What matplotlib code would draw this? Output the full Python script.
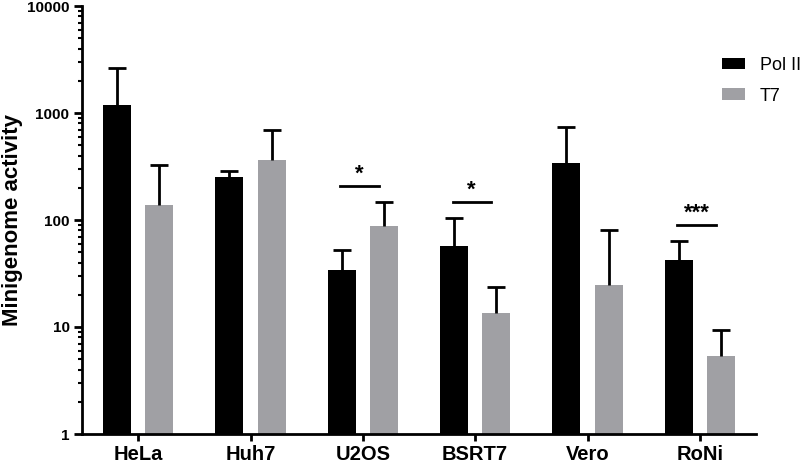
import matplotlib
matplotlib.use("Agg")
import matplotlib.pyplot as plt
from matplotlib.ticker import LogLocator, FixedLocator, NullFormatter
import numpy as np

plt.rcParams['font.family'] = ['Liberation Sans', 'DejaVu Sans']

categories = ["HeLa", "Huh7", "U2OS", "BSRT7", "Vero", "RoNi"]
polii = [1200, 250, 34, 57, 340, 42]
polii_err_top = [2650, 290, 52, 105, 735, 64]
t7 = [137, 360, 87, 13.5, 24.5, 5.4]
t7_err_top = [330, 695, 147, 23.5, 81, 9.3]
sig_labels = {"U2OS": "*", "BSRT7": "*", "RoNi": "***"}

W, H = 800, 468
fig = plt.figure(figsize=(W / 100, H / 100), dpi=100)
ax = fig.add_axes([82 / W, 1 - 434 / H, (756 - 82) / W, (434 - 6) / H])

x = np.arange(len(categories))
w = 0.25
off = 0.1875
black = "#000000"
grey = "#a0a0a4"

ax.bar(x - off, polii, width=w, color=black, label="Pol II", zorder=2)
ax.bar(x + off, t7, width=w, color=grey, label="T7", zorder=2)

for xs, vals, tops in [(x - off, polii, polii_err_top), (x + off, t7, t7_err_top)]:
    up = np.array(tops) - np.array(vals)
    ax.errorbar(xs, vals, yerr=[np.zeros(len(xs)), up], fmt="none", ecolor="black",
                elinewidth=2, capsize=0, zorder=3)
    ax.plot(xs, tops, ls="none", marker="_", markersize=13, mew=2, color="black", zorder=3)

ax.set_yscale("log")
ax.set_ylim(1, 10000)
ax.set_xlim(-0.5, len(categories) - 0.5)
ax.yaxis.set_major_locator(FixedLocator([1, 10, 100, 1000, 10000]))
ax.set_yticklabels(["1", "10", "100", "1000", "10000"], fontsize=11, fontweight="bold")
ax.yaxis.set_minor_locator(LogLocator(base=10, subs=np.arange(2, 10)))
ax.yaxis.set_minor_formatter(NullFormatter())
ax.set_xticks(x)
ax.set_xticklabels(categories, fontsize=14.5, fontweight="bold")
ax.set_ylabel("Minigenome activity", fontsize=16, fontweight="bold")
ax.yaxis.set_label_coords((23 - 82) / (756 - 82), 0.5)

for s in ["top", "right"]:
    ax.spines[s].set_visible(False)
for s in ["left", "bottom"]:
    ax.spines[s].set_linewidth(2)
ax.tick_params(axis="y", which="major", direction="out", length=6, width=2, pad=3)
ax.tick_params(axis="y", which="minor", direction="out", length=3, width=1.5)
ax.tick_params(axis="x", which="major", direction="out", length=5, width=2, pad=3)

# significance markers
for i, cat in enumerate(categories):
    if cat in sig_labels:
        top = max(polii_err_top[i], t7_err_top[i])
        y = top * 1.4
        cx = i - 0.03
        ax.plot([cx - 0.17, cx + 0.17], [y, y], color="black", lw=2, zorder=3)
        ax.text(cx, y * 1.03, sig_labels[cat], ha="center", va="bottom",
                fontsize=16, fontweight="bold")

leg = fig.legend(loc="upper left", bbox_to_anchor=(722 / W, 1 - 57 / H), frameon=False,
                 fontsize=13, handlelength=1.3, handleheight=0.62, labelspacing=0.75,
                 handletextpad=0.8, borderpad=0, borderaxespad=0)

fig.savefig("out.png", dpi=100)
